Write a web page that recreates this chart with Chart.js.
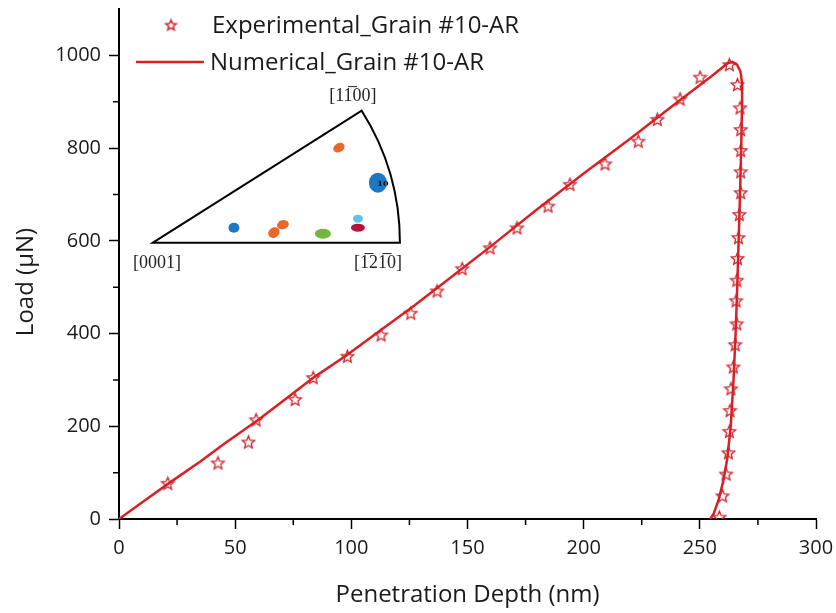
<!DOCTYPE html>
<html>
<head>
<meta charset="utf-8">
<script src="https://cdn.jsdelivr.net/npm/chart.js@4.4.1/dist/chart.umd.min.js"></script>
<style>
  html, body { margin: 0; padding: 0; background: #fff; }
  #wrap { width: 836px; height: 613px; }
</style>
</head>
<body>
<div id="wrap"><canvas id="loadChart"></canvas></div>
<script>
// experimental points (stars)
const expDepth = [21, 42.6, 55.7, 59, 75.8, 83.6, 98.3, 112.8, 125.6, 136.9, 147.7, 159.7, 171.3, 184.7,
  194.1, 209.2, 223.5, 231.7, 241.5, 250.1, 262.7,
  266.2, 267.3, 267.6, 267.6, 267.6, 267.6, 267.0, 266.6, 266.2, 265.9, 265.6, 265.9, 265.2, 264.4,
  263.4, 263.0, 262.7, 262.3, 261.3, 259.8, 258.4];
const expLoad = [77, 121, 166, 214, 258, 305, 351, 397, 444, 492, 540, 585, 628, 675,
  722, 766, 815, 862, 906, 953, 980,
  937, 887, 840, 795, 749, 704, 657, 607, 562, 515, 471, 421, 376, 328,
  281, 234, 189, 143, 97, 50, 4];

// numerical curve
const numDepth = [0, 10, 22, 35, 45, 60, 72, 84, 98, 112, 127, 140, 160, 180, 200, 220, 240, 255, 262,
  264, 266, 267.5, 268.2, 268.2, 267.8, 267.3, 266.7, 266.1, 265.4, 264.5, 263.3, 261.8, 260, 258, 256, 254.5];
const numLoad = [0, 36, 79, 124, 161, 214, 260, 306, 353, 405, 460, 510, 588, 668, 745, 820, 898, 955, 983,
  986, 980, 965, 940, 900, 800, 700, 600, 500, 400, 300, 200, 130, 80, 40, 12, 0];

const xTicks = [0, 50, 100, 150, 200, 250, 300];
const yTicks = [0, 200, 400, 600, 800, 1000];
const xMinor = [25, 75, 125, 175, 225, 275];
const yMinor = [100, 300, 500, 700, 900];

const RED = "#d92024";
const FONT = "'Open Sans', 'DejaVu Sans', sans-serif";
const INK = "#1a1a1a";

// hollow five-point star marker
function makeStar(r, w) {
  const c = document.createElement("canvas");
  const s = Math.ceil(r * 2 + 4);
  c.width = s; c.height = s;
  const g = c.getContext("2d");
  g.beginPath();
  for (let i = 0; i < 10; i++) {
    const rad = i % 2 === 0 ? r : r * 0.45;
    const a = -Math.PI / 2 + i * Math.PI / 5;
    const px = s / 2 + rad * Math.cos(a);
    const py = s / 2 + rad * Math.sin(a) + 0.5;
    if (i === 0) g.moveTo(px, py); else g.lineTo(px, py);
  }
  g.closePath();
  g.strokeStyle = "#d0222c";
  g.lineWidth = w;
  g.stroke();
  return c;
}
const starImg = makeStar(6.5, 1.3);
const legendStar = makeStar(5.5, 1.5);

const minorTicks = {
  id: "minorTicks",
  afterDraw(chart) {
    const { ctx, scales } = chart;
    const xs = scales.x, ys = scales.y;
    ctx.save();
    ctx.strokeStyle = "#000";
    ctx.lineWidth = 1.5;
    ctx.beginPath();
    xMinor.forEach(v => {
      const px = xs.getPixelForValue(v);
      ctx.moveTo(px, xs.top); ctx.lineTo(px, xs.top + 6);
    });
    yMinor.forEach(v => {
      const py = ys.getPixelForValue(v);
      ctx.moveTo(ys.right, py); ctx.lineTo(ys.right - 6, py);
    });
    ctx.stroke();
    ctx.restore();
  }
};

// legend, y title and pole figure inset
const extras = {
  id: "extras",
  afterDraw(chart) {
    const { ctx, scales } = chart;
    const xs = scales.x, ys = scales.y;
    ctx.save();
    ctx.font = "24px " + FONT;
    ctx.fillStyle = INK;
    ctx.textBaseline = "middle";
    ctx.drawImage(legendStar, 171 - legendStar.width / 2, 25 - legendStar.height / 2);
    ctx.fillText("Experimental_Grain #10-AR", 212, 26);
    ctx.strokeStyle = RED;
    ctx.lineWidth = 2.5;
    ctx.beginPath(); ctx.moveTo(136, 62); ctx.lineTo(204, 62); ctx.stroke();
    ctx.fillText("Numerical_Grain #10-AR", 210, 63);

    ctx.save();
    ctx.translate(26, 282);
    ctx.rotate(-Math.PI / 2);
    ctx.textAlign = "center";
    ctx.fillText("Load (\u00b5N)", 0, 0);
    ctx.restore();

    // inset triangle anchored at [0001]
    const ox = xs.getPixelForValue(14.6), oy = ys.getPixelForValue(596);
    const R = 247, ang = 32.3 * Math.PI / 180;
    ctx.strokeStyle = "#000";
    ctx.lineWidth = 2;
    ctx.beginPath();
    ctx.moveTo(ox, oy);
    ctx.lineTo(ox + R * Math.cos(ang), oy - R * Math.sin(ang));
    ctx.arc(ox, oy, R, -ang, 0, false);
    ctx.closePath();
    ctx.stroke();

    const blobs = [
      [186, -95, 6, 4.5, -0.5, "#e8682c"],
      [225, -60, 9, 10, 0, "#1c78c4"],
      [81, -15, 5.5, 5, 0, "#1c78c4"],
      [121, -10, 6, 5, -0.6, "#e8682c"],
      [130, -18, 6, 4.5, -0.3, "#e8682c"],
      [170, -9, 8, 5, 0, "#72b840"],
      [205, -24, 5, 4, 0, "#62c2ee"],
      [205, -15, 7, 4, 0, "#b5123e"]
    ];
    blobs.forEach(b => {
      ctx.fillStyle = b[5];
      ctx.beginPath();
      ctx.ellipse(ox + b[0], oy + b[1], b[2], b[3], b[4], 0, Math.PI * 2);
      ctx.fill();
    });
    ctx.fillStyle = "#111";
    ctx.font = "bold 8px 'DejaVu Serif', serif";
    ctx.textAlign = "center";
    ctx.fillText("10", ox + 230, oy - 59);

    ctx.font = "18px 'Liberation Serif', 'DejaVu Serif', serif";
    ctx.fillStyle = "#222";
    ctx.fillText("[0001]", ox + 4, oy + 21);
    ctx.fillText("[1\u03052 1\u03050]".replace(" ", ""), ox + 225, oy + 21);
    ctx.fillText("[11\u030500]", ox + 200, oy - 146);
    ctx.restore();
  }
};

const chart = new Chart(document.getElementById("loadChart"), {
  type: "scatter",
  data: {
    datasets: [
      {
        label: "Numerical_Grain #10-AR",
        data: numDepth.map((d, i) => ({ x: d, y: numLoad[i] })),
        showLine: true,
        borderColor: RED,
        borderWidth: 2.5,
        pointRadius: 0,
        tension: 0,
        order: 2,
      },
      {
        label: "Experimental_Grain #10-AR",
        data: expDepth.map((d, i) => ({ x: d, y: expLoad[i] })),
        showLine: false,
        pointStyle: starImg,
        pointRadius: 7,
        order: 1,
      },
    ],
  },
  options: {
    responsive: true,
    maintainAspectRatio: false,
    animation: false,
    layout: { padding: { top: 9, right: 20, left: 0, bottom: 0 } },
    plugins: { legend: { display: false }, tooltip: { enabled: false } },
    scales: {
      x: {
        type: "linear",
        min: 0,
        max: 300,
        afterBuildTicks: s => { s.ticks = xTicks.map(v => ({ value: v })); },
        afterFit: s => { s.height = 94; s.paddingLeft = 0; s.paddingRight = 0; },
        border: { color: "#000", width: 2 },
        grid: { drawOnChartArea: false, color: "#000", tickLength: 10, tickWidth: 1.5 },
        ticks: { color: INK, font: { family: FONT, size: 20 }, padding: 7, maxRotation: 0,
          callback: v => String(v) },
        title: { display: true, text: "Penetration Depth (nm)", color: INK,
          font: { family: FONT, size: 24 }, padding: { top: 0, bottom: 3 } },
      },
      y: {
        type: "linear",
        min: 0,
        max: 1100,
        afterBuildTicks: s => { s.ticks = yTicks.map(v => ({ value: v })); },
        afterFit: s => { s.width = 119; s.paddingTop = 0; s.paddingBottom = 0; },
        border: { color: "#000", width: 2 },
        grid: { drawOnChartArea: false, color: "#000", tickLength: 10, tickWidth: 1.5 },
        ticks: { color: INK, font: { family: FONT, size: 20 }, padding: 8,
          callback: v => String(v) },
        title: { display: false },
      },
    },
  },
  plugins: [minorTicks, extras],
});
</script>
</body>
</html>
